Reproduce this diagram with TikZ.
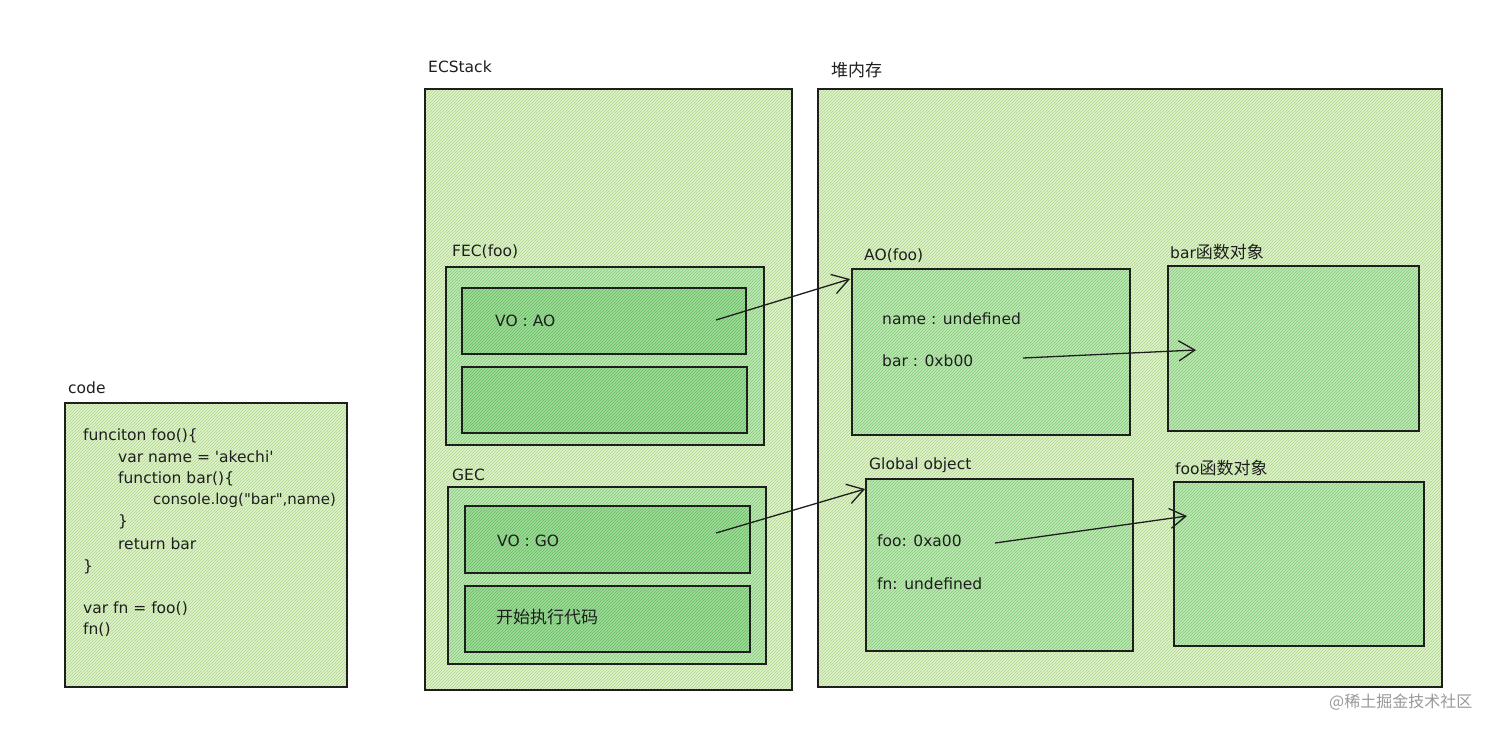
\documentclass[tikz,border=0pt]{standalone}
\usepackage{fontspec}
\setmainfont{DejaVu Sans}
\newfontfamily\cjk{Noto Sans CJK SC}
\usetikzlibrary{patterns,arrows.meta}
\definecolor{ink}{HTML}{1E1E1E}
\definecolor{outerbase}{HTML}{E0F2CE}
\definecolor{outerline}{HTML}{ADD887}
\definecolor{midbase}{HTML}{BFE8B3}
\definecolor{midline}{HTML}{82CA79}
\definecolor{deepbase}{HTML}{A0DB99}
\definecolor{deepline}{HTML}{64BC64}
\newcommand{\cjkt}[1]{{\cjk\fontsize{17}{20}\selectfont #1}}
\tikzset{
  boxbase/.style={draw=ink, anchor=north west, inner sep=0pt, line width=1.6pt},
  outerbox/.style={boxbase, preaction={fill=outerbase}, pattern=north east lines, pattern color=outerline},
  midbox/.style={boxbase, preaction={fill=midbase}, pattern=north east lines, pattern color=midline},
  deepbox/.style={boxbase, line width=2pt, preaction={fill=deepbase}, pattern=north east lines, pattern color=deepline},
  txt/.style={anchor=west, inner sep=0pt, font=\fontsize{15.5}{18}\selectfont, text=ink, text height=11pt, text depth=3pt},
  conn/.style={draw=ink, line width=1.3pt, -{Straight Barb[length=16pt,width=20pt,line width=1.3pt]}}
}
\begin{document}
\begin{tikzpicture}[x=1pt,y=-1pt]
\fill[white] (0,0) rectangle (1511,734);
\useasboundingbox (0,0) rectangle (1511,734);

% code box
\node[txt] (codelbl) at (68,389) {code};
\node[outerbox, minimum width=282pt, minimum height=284pt] (code) at (64,402) {};
\node[txt] (c1) at (83,436) {funciton foo()\{};
\node[txt] (c2) at (118,458) {var name = \textquotesingle akechi\textquotesingle};
\node[txt] (c3) at (118,479) {function bar()\{};
\node[txt, font=\fontsize{15}{18}\selectfont] (c4) at (153,500) {console.log(\textquotedbl bar\textquotedbl,name)};
\node[txt] (c5) at (118,522) {\}};
\node[txt] (c6) at (118,545) {return bar};
\node[txt] (c7) at (83,567) {\}};
\node[txt] (c8) at (83,609) {var fn = foo()};
\node[txt] (c9) at (83,630) {fn()};

% ECStack
\node[txt] (ecslbl) at (428,68) {ECStack};
\node[outerbox, minimum width=367pt, minimum height=601pt] (ecs) at (424,88) {};
\node[txt] (feclbl) at (452,252) {FEC(foo)};
\node[midbox, minimum width=318pt, minimum height=178pt] (fec) at (445,266) {};
\node[deepbox, minimum width=284pt, minimum height=66pt] (fecvo) at (461,287) {};
\node[deepbox, minimum width=285pt, minimum height=66pt] (fecb) at (461,366) {};
\node[txt] (fecvotxt) at (495,322) {VO : AO};
\node[txt] (geclbl) at (452,476) {GEC};
\node[midbox, minimum width=318pt, minimum height=177pt] (gec) at (447,486) {};
\node[deepbox, minimum width=285pt, minimum height=67pt] (gecvo) at (464,505) {};
\node[deepbox, minimum width=285pt, minimum height=66pt] (gecb) at (464,585) {};
\node[txt] (gecvotxt) at (497,542) {VO : GO};
\node[txt] (gecbtxt) at (496,619) {\cjkt{开始执行代码}};

% heap
\node[txt] (heaplbl) at (831,72) {\cjkt{堆内存}};
\node[outerbox, minimum width=624pt, minimum height=598pt] (heap) at (817,88) {};
\node[txt] (aolbl) at (864,256) {AO(foo)};
\node[midbox, minimum width=278pt, minimum height=166pt] (ao) at (851,268) {};
\node[txt] (aoname) at (882,320) {name : undefined};
\node[txt] (aobar) at (882,362) {bar : 0xb00};
\node[txt] (barlbl) at (1170,254) {bar\cjkt{函数对象}};
\node[midbox, minimum width=251pt, minimum height=165pt] (barobj) at (1167,265) {};
\node[txt] (golbl) at (869,465) {Global object};
\node[midbox, minimum width=267pt, minimum height=172pt] (go) at (865,478) {};
\node[txt] (gofoo) at (877,542) {foo: 0xa00};
\node[txt] (gofn) at (877,585) {fn: undefined};
\node[txt] (foolbl) at (1175,470) {foo\cjkt{函数对象}};
\node[midbox, minimum width=250pt, minimum height=164pt] (fooobj) at (1173,481) {};

% watermark
\node[txt, text=black!40, font=\cjk\fontsize{16}{18}\selectfont] (wm) at (1329,703) {@稀土掘金技术社区};

% connectors
\coordinate (a1s) at (716,320);
\coordinate (a1e) at (850,279);
\coordinate (a2s) at (1023,358);
\coordinate (a2e) at (1196,350);
\coordinate (a3s) at (716,533);
\coordinate (a3e) at (865,489);
\coordinate (a4s) at (995,543);
\coordinate (a4e) at (1187,516);
\draw[conn] (a1s) -- (a1e);
\draw[conn] (a2s) -- (a2e);
\draw[conn] (a3s) -- (a3e);
\draw[conn] (a4s) -- (a4e);
\end{tikzpicture}
\end{document}
